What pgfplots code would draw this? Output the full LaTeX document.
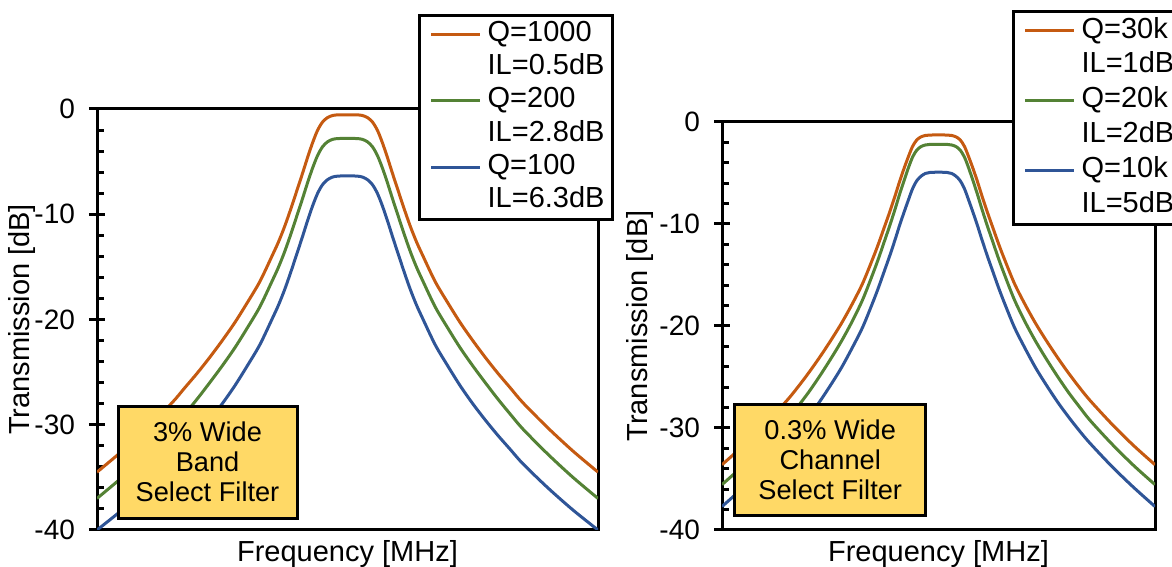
\documentclass[border=0pt]{standalone}
\usepackage{pgfplots}
\pgfplotsset{compat=1.18}
\usepackage{fontspec}
\setmainfont{Liberation Sans}
\definecolor{cO}{HTML}{C55A11}
\definecolor{cG}{HTML}{548235}
\definecolor{cB}{HTML}{2F5597}
\definecolor{cY}{HTML}{FFD966}
\newcommand{\fs}{\fontsize{14.5}{16}\selectfont}
\newcommand{\ft}{\fontsize{14}{16}\selectfont}
\newcommand{\fb}{\fontsize{13.6}{15}\selectfont}
\tikzset{annbox/.style={draw=black, line width=1.5pt, fill=cY, align=center, inner sep=0pt, font=\fb}}
\pgfplotsset{
 myaxis/.style={
  scale only axis,
  xmin=-1,xmax=1,ymin=-40,ymax=0,
  xtick=\empty,
  ytick={-40,-30,-20,-10,0},
  minor y tick num=4,
  ytick pos=left,
  tick align=inside,
  major tick length=4pt, minor tick length=3.5pt,
  every tick/.style={black, line width=1.5pt},
  axis line style={line width=1.5pt},
  extra y ticks={-40,-30,-20,-10,0},
  extra y tick labels={},
  extra y tick style={tick align=outside, major tick length=4pt},
  /pgf/number format/assume math mode=true,
  tick label style={font=\ft},
  yticklabel style={xshift=-7.5pt},
  label style={font=\fs},
  xlabel={Frequency [MHz]},
  ylabel={Transmission [dB]},
  xlabel style={at={(axis description cs:0.5,0)},anchor=north,inner sep=0pt,yshift=-5pt},
  legend cell align=left,
  legend style={draw=black, line width=1.5pt, font=\fs, anchor=north west, inner sep=1pt, row sep=0pt,
     nodes={inner xsep=3pt, inner ysep=2pt, text height=9.8pt, text depth=2.8pt}},
  legend image code/.code={\path (0pt,0pt); \draw[##1] (4pt,0pt) -- (28.5pt,0pt);},
 },
 cur/.style={line width=1.5pt, smooth, no markers},
}
\newcommand{\blank}{\addlegendimage{draw=white, draw opacity=0, opacity=0}}
\begin{document}
\begin{tikzpicture}
\useasboundingbox (0,0) rectangle (586pt,283.5pt);
% ---------------- left panel ----------------
\begin{axis}[myaxis, width=250.5pt, height=210.5pt, at={(48.5pt,18.5pt)}, anchor=south west,
  ylabel style={at={(axis description cs:-0.15,0.5)},anchor=center},
  legend style={at={(axis description cs:0.641,1.2245)}}]
\addplot[cur, cO] coordinates {
(-1,-34.5)(-0.9,-32.5)(-0.8,-30.3)(-0.7,-27.9)(-0.65,-26.5)(-0.6,-25.1)(-0.55,-23.6)(-0.5,-22.0)(-0.45,-20.3)(-0.4,-18.4)(-0.35,-16.4)(-0.3,-13.9)(-0.275,-12.6)(-0.25,-11.1)(-0.225,-9.4)(-0.2,-7.6)(-0.18,-6.15)(-0.16,-4.65)(-0.14,-3.25)(-0.12,-2.05)(-0.1,-1.25)(-0.08,-0.82)(-0.06,-0.62)(-0.04,-0.56)(0,-0.55)
(0.04,-0.56)(0.06,-0.62)(0.08,-0.82)(0.1,-1.25)(0.12,-2.05)(0.14,-3.25)(0.16,-4.65)(0.18,-6.15)(0.2,-7.6)(0.225,-9.4)(0.25,-11.1)(0.275,-12.6)(0.3,-13.9)(0.35,-16.4)(0.4,-18.4)(0.45,-20.3)(0.5,-22.0)(0.55,-23.6)(0.6,-25.1)(0.65,-26.5)(0.7,-27.9)(0.8,-30.3)(0.9,-32.5)(1,-34.5)};
\addlegendentry{Q=1000}
\blank\addlegendentry{IL=0.5dB}
\addplot[cur, cG] coordinates {
(-1,-37.0)(-0.9,-35.0)(-0.8,-32.8)(-0.7,-30.4)(-0.65,-29.0)(-0.6,-27.55)(-0.55,-26.0)(-0.5,-24.4)(-0.45,-22.7)(-0.4,-20.8)(-0.35,-18.8)(-0.3,-16.3)(-0.275,-15.0)(-0.25,-13.5)(-0.225,-11.8)(-0.2,-10.0)(-0.18,-8.55)(-0.16,-7.05)(-0.14,-5.65)(-0.12,-4.45)(-0.1,-3.6)(-0.08,-3.12)(-0.06,-2.89)(-0.04,-2.81)(0,-2.8)
(0.04,-2.81)(0.06,-2.89)(0.08,-3.12)(0.1,-3.6)(0.12,-4.45)(0.14,-5.65)(0.16,-7.05)(0.18,-8.55)(0.2,-10.0)(0.225,-11.8)(0.25,-13.5)(0.275,-15.0)(0.3,-16.3)(0.35,-18.8)(0.4,-20.8)(0.45,-22.7)(0.5,-24.4)(0.55,-26.0)(0.6,-27.55)(0.65,-29.0)(0.7,-30.4)(0.8,-32.8)(0.9,-35.0)(1,-37.0)};
\addlegendentry{Q=200}
\blank\addlegendentry{IL=2.8dB}
\addplot[cur, cB] coordinates {
(-1,-40.0)(-0.9,-38.1)(-0.8,-36.0)(-0.7,-33.7)(-0.65,-32.35)(-0.6,-31.0)(-0.55,-29.55)(-0.5,-28.0)(-0.45,-26.3)(-0.4,-24.4)(-0.35,-22.4)(-0.3,-19.9)(-0.275,-18.6)(-0.25,-17.1)(-0.225,-15.4)(-0.2,-13.6)(-0.18,-12.15)(-0.16,-10.65)(-0.14,-9.25)(-0.12,-8.05)(-0.1,-7.2)(-0.08,-6.72)(-0.06,-6.47)(-0.04,-6.38)(0,-6.35)
(0.04,-6.38)(0.06,-6.47)(0.08,-6.72)(0.1,-7.2)(0.12,-8.05)(0.14,-9.25)(0.16,-10.65)(0.18,-12.15)(0.2,-13.6)(0.225,-15.4)(0.25,-17.1)(0.275,-18.6)(0.3,-19.9)(0.35,-22.4)(0.4,-24.4)(0.45,-26.3)(0.5,-28.0)(0.55,-29.55)(0.6,-31.0)(0.65,-32.35)(0.7,-33.7)(0.8,-36.0)(0.9,-38.1)(1,-40.0)};
\addlegendentry{Q=100}
\blank\addlegendentry{IL=6.3dB}
\node[annbox, minimum width=89.5pt, minimum height=56pt] at (axis description cs:0.2206,0.1615) {3\% Wide\\Band\\Select Filter};
\end{axis}
% ---------------- right panel ----------------
\begin{axis}[myaxis, width=216.5pt, height=204pt, at={(361pt,18.5pt)}, anchor=south west,
  ylabel style={at={(axis description cs:-0.189,0.5)},anchor=center},
  legend style={at={(axis description cs:0.670,1.2745)}, nodes={text height=10.3pt, text depth=3.1pt}}]
\addplot[cur, cO] coordinates {
(-1,-33.6)(-0.9,-31.7)(-0.8,-29.6)(-0.7,-27.3)(-0.65,-26.0)(-0.6,-24.6)(-0.55,-23.1)(-0.5,-21.5)(-0.45,-19.8)(-0.4,-17.9)(-0.35,-15.8)(-0.3,-13.2)(-0.275,-11.8)(-0.25,-10.3)(-0.225,-8.8)(-0.2,-7.2)(-0.18,-5.85)(-0.16,-4.6)(-0.14,-3.45)(-0.12,-2.4)(-0.1,-1.75)(-0.08,-1.45)(-0.06,-1.32)(-0.04,-1.28)(0,-1.27)
(0.04,-1.28)(0.06,-1.32)(0.08,-1.45)(0.1,-1.75)(0.12,-2.4)(0.14,-3.45)(0.16,-4.6)(0.18,-5.85)(0.2,-7.2)(0.225,-8.8)(0.25,-10.3)(0.275,-11.8)(0.3,-13.2)(0.35,-15.8)(0.4,-17.9)(0.45,-19.8)(0.5,-21.5)(0.55,-23.1)(0.6,-24.6)(0.65,-26.0)(0.7,-27.3)(0.8,-29.6)(0.9,-31.7)(1,-33.6)};
\addlegendentry{Q=30k}
\blank\addlegendentry{IL=1dB}
\addplot[cur, cG] coordinates {
(-1,-35.55)(-0.9,-33.65)(-0.8,-31.55)(-0.7,-29.25)(-0.65,-27.9)(-0.6,-26.5)(-0.55,-24.95)(-0.5,-23.3)(-0.45,-21.55)(-0.4,-19.6)(-0.35,-17.4)(-0.3,-14.7)(-0.275,-13.25)(-0.25,-11.7)(-0.225,-10.15)(-0.2,-8.5)(-0.18,-7.1)(-0.16,-5.8)(-0.14,-4.55)(-0.12,-3.45)(-0.1,-2.75)(-0.08,-2.4)(-0.06,-2.25)(-0.04,-2.2)(0,-2.19)
(0.04,-2.2)(0.06,-2.25)(0.08,-2.4)(0.1,-2.75)(0.12,-3.45)(0.14,-4.55)(0.16,-5.8)(0.18,-7.1)(0.2,-8.5)(0.225,-10.15)(0.25,-11.7)(0.275,-13.25)(0.3,-14.7)(0.35,-17.4)(0.4,-19.6)(0.45,-21.55)(0.5,-23.3)(0.55,-24.95)(0.6,-26.5)(0.65,-27.9)(0.7,-29.25)(0.8,-31.55)(0.9,-33.65)(1,-35.55)};
\addlegendentry{Q=20k}
\blank\addlegendentry{IL=2dB}
\addplot[cur, cB] coordinates {
(-1,-37.7)(-0.9,-35.8)(-0.8,-33.75)(-0.7,-31.5)(-0.65,-30.25)(-0.6,-28.9)(-0.55,-27.45)(-0.5,-25.85)(-0.45,-24.15)(-0.4,-22.2)(-0.35,-20.1)(-0.3,-17.5)(-0.275,-16.1)(-0.25,-14.6)(-0.225,-13.1)(-0.2,-11.5)(-0.18,-10.15)(-0.16,-8.9)(-0.14,-7.7)(-0.12,-6.55)(-0.1,-5.75)(-0.08,-5.3)(-0.06,-5.04)(-0.04,-4.95)(0,-4.92)
(0.04,-4.95)(0.06,-5.04)(0.08,-5.3)(0.1,-5.75)(0.12,-6.55)(0.14,-7.7)(0.16,-8.9)(0.18,-10.15)(0.2,-11.5)(0.225,-13.1)(0.25,-14.6)(0.275,-16.1)(0.3,-17.5)(0.35,-20.1)(0.4,-22.2)(0.45,-24.15)(0.5,-25.85)(0.55,-27.45)(0.6,-28.9)(0.65,-30.25)(0.7,-31.5)(0.8,-33.75)(0.9,-35.8)(1,-37.7)};
\addlegendentry{Q=10k}
\blank\addlegendentry{IL=5dB}
\node[annbox, minimum width=95.5pt, minimum height=55.5pt] at (axis description cs:0.25,0.1716) {0.3\% Wide\\Channel\\Select Filter};
\end{axis}
\end{tikzpicture}
\end{document}
